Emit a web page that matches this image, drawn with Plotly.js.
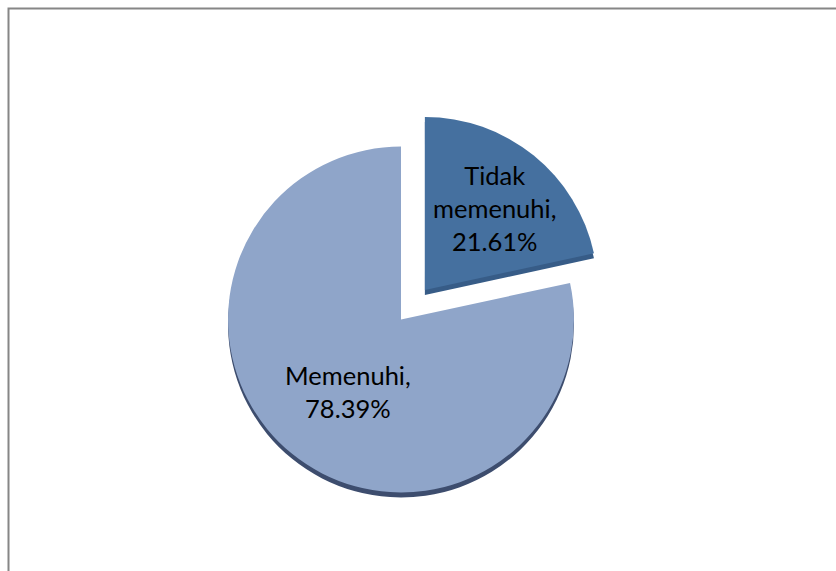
<!DOCTYPE html>
<html><head><meta charset="utf-8">
<script src="https://cdn.plot.ly/plotly-3.0.1.min.js"></script>
<style>html,body{margin:0;padding:0;background:#fff;overflow:hidden}</style>
</head><body><div id="chart" style="width:836px;height:571px"></div>
<script>
const categories = ["Tidak memenuhi", "Memenuhi"];
const values = [21.61, 78.39];
const pull = [0.22, 0];
const faceColors = ["#45709f", "#8fa5c9"];
const rimColors = ["#375c87", "#3d4d6e"];
const labelLines = [["Tidak", "memenuhi,", "21.61%"], ["Memenuhi,", "78.39%"]];
const labelPos = [[494, 208], [348, 391]];

const W = 836, H = 571;
const cx = 401, cy = 319.5, half = 211, rimDepth = 5;
const dom = (dy) => ({
  x: [(cx - half) / W, (cx + half) / W],
  y: [1 - (cy + dy + half) / H, 1 - (cy + dy - half) / H]
});
const base = {
  type: "pie", labels: categories, values: values, pull: pull, sort: false,
  direction: "clockwise", rotation: 0, textinfo: "none", hoverinfo: "label+percent"
};
const traces = [
  Object.assign({}, base, {domain: dom(rimDepth), marker: {colors: rimColors, line: {width: 0}}}),
  Object.assign({}, base, {domain: dom(0), marker: {colors: faceColors, line: {width: 0}}})
];
const layout = {
  width: W, height: H, margin: {l: 0, r: 0, t: 0, b: 0}, showlegend: false,
  paper_bgcolor: "#fff",
  shapes: [{type: "rect", xref: "paper", yref: "paper",
    x0: 8.5 / W, x1: (W + 10) / W, y0: -10 / H, y1: 1 - 8.5 / H,
    line: {color: "#868686", width: 2}}],
  annotations: labelLines.map((l, i) => ({
    xref: "paper", yref: "paper", x: labelPos[i][0] / W, y: 1 - labelPos[i][1] / H,
    text: l.join("<br>"), showarrow: false, align: "center",
    xanchor: "center", yanchor: "middle",
    font: {family: "Lato, 'Open Sans', sans-serif", size: 25.5, color: "#000"}
  }))
};
Plotly.newPlot("chart", traces, layout, {displayModeBar: false});
</script></body></html>
